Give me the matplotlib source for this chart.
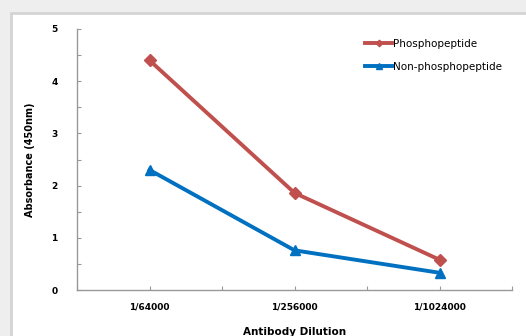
import matplotlib.pyplot as plt
import numpy as np
from matplotlib.patches import Rectangle

dilutions = ["1/64000", "1/256000", "1/1024000"]
phospho = [4.40, 1.86, 0.58]
non_phospho = [2.30, 0.76, 0.33]

RED = "#c0504d"
BLUE = "#0070c0"

fig = plt.figure(figsize=(5.26, 3.36), dpi=100, facecolor="#eeeeee")
# white panel behind the chart
fig.patches.append(Rectangle((11 / 526, -0.01), 1.0, 1 - 13 / 336 + 0.01,
                             transform=fig.transFigure, facecolor="white",
                             edgecolor="#d4d4d4", linewidth=2, zorder=-5))

ax = fig.add_axes([77 / 526, 1 - 290 / 336, 435 / 526, 261 / 336])
ax.set_facecolor("none")
ax.set_zorder(2)

x = np.arange(len(dilutions))
ax.plot(x, phospho, color=RED, lw=2.8, marker="D", ms=6, label="Phosphopeptide")
ax.plot(x, non_phospho, color=BLUE, lw=2.8, marker="^", ms=7, label="Non-phosphopeptide")

ax.set_xlim(-0.5, 2.5)
ax.set_ylim(0, 5)
ax.set_xticks(np.arange(-0.5, 2.51, 0.5))
ax.set_xticklabels(["", "1/64000", "", "1/256000", "", "1/1024000", ""])
ax.set_yticks(np.arange(0, 5.01, 0.5))
ax.set_yticklabels([str(int(v)) if v == int(v) else "" for v in np.arange(0, 5.01, 0.5)])

for s in ["top", "right"]:
    ax.spines[s].set_visible(False)
for s in ["left", "bottom"]:
    ax.spines[s].set_color("#999999")
    ax.spines[s].set_linewidth(1)
ax.tick_params(direction="in", length=3, color="#999999", labelsize=6.5)
for lbl in ax.get_xticklabels() + ax.get_yticklabels():
    lbl.set_fontweight("heavy")
ax.tick_params(axis="y", pad=14)
ax.tick_params(axis="x", pad=9)

ax.set_ylabel("Absorbance (450nm)", fontsize=7, fontweight="heavy", labelpad=12)
ax.set_xlabel("Antibody Dilution", fontsize=7.5, fontweight="heavy", labelpad=11)

ax.legend(loc="upper left", bbox_to_anchor=(365 / 526, 1 - 39 / 336),
          bbox_transform=fig.transFigure, frameon=False, borderpad=0,
          borderaxespad=0, fontsize=7.5, handlelength=2.6, handletextpad=0.1,
          labelspacing=1.25, markerscale=0.55)

fig.savefig("out.png", dpi=100, facecolor=fig.get_facecolor())
